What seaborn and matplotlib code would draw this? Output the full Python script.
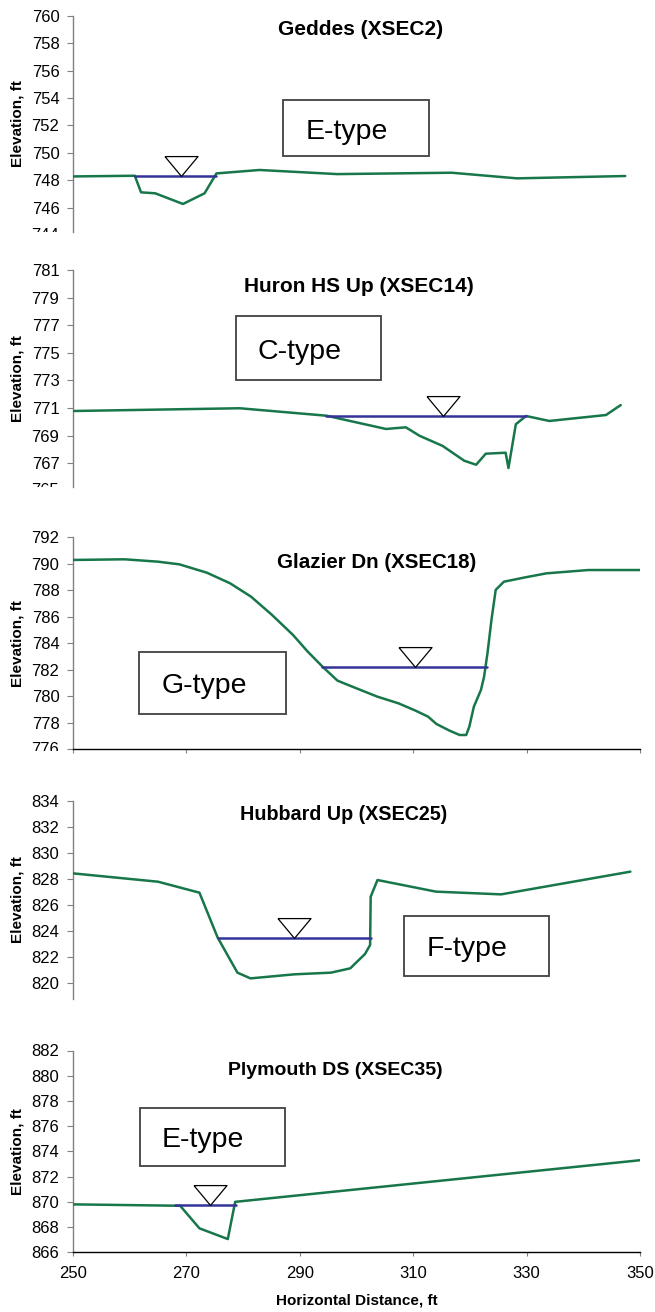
import matplotlib
matplotlib.use("Agg")
import matplotlib.pyplot as plt
import seaborn as sns
from matplotlib.patches import Rectangle
from matplotlib.transforms import offset_copy, blended_transform_factory, Bbox, TransformedBbox

# ---------------- data ----------------
titles = ["Geddes (XSEC2)", "Huron HS Up (XSEC14)", "Glazier Dn (XSEC18)",
          "Hubbard Up (XSEC25)", "Plymouth DS (XSEC35)"]
stream_types = ["E-type", "C-type", "G-type", "F-type", "E-type"]

geddes_x = [250, 260.9, 262.0, 264.5, 269.4, 273.2, 275.3, 282.9, 296.6, 316.8, 328.3, 347.4]
geddes_y = [748.28, 748.33, 747.12, 747.05, 746.27, 747.05, 748.50, 748.75, 748.45, 748.55, 748.14, 748.31]
geddes_ws_x = [260.9, 275.3]
geddes_ws = 748.33
geddes_tri = 269.1

huron_x = [250, 279.4, 294.7, 305.2, 308.7, 311.1, 315.2, 319.0, 321.1, 322.8, 326.3, 326.8,
           328.1, 329.9, 334.0, 344.0, 346.6]
huron_y = [770.79, 770.99, 770.45, 769.49, 769.61, 769.0, 768.26, 767.19, 766.9, 767.7, 767.77,
           766.66, 769.83, 770.43, 770.07, 770.5, 771.22]
huron_ws_x = [294.7, 329.9]
huron_ws = 770.43
huron_tri = 315.2

glazier_x = [250, 259.1, 265.0, 268.75, 273.6, 277.7, 281.4, 285.1, 288.8, 291.4, 294.0, 296.65,
             300.0, 303.7, 307.4, 310.4, 312.6, 314.1, 316.4, 318.2, 319.35, 319.9, 320.7, 321.95,
             322.5, 323.1, 323.8, 324.55, 326.0, 329.8, 333.5, 340.9, 344.6, 350]
glazier_y = [790.29, 790.34, 790.16, 789.96, 789.33, 788.53, 787.52, 786.14, 784.63, 783.37,
             782.24, 781.18, 780.60, 779.97, 779.47, 778.92, 778.47, 777.91, 777.41, 777.08,
             777.08, 777.71, 779.22, 780.48, 781.48, 783.25, 785.76, 788.03, 788.65, 788.98,
             789.28, 789.53, 789.53, 789.53]
glazier_ws_x = [294.0, 323.1]
glazier_ws = 782.2
glazier_tri = 310.3

hubbard_x = [250, 265.0, 272.3, 275.5, 279.0, 281.3, 289.0, 295.5, 298.9, 301.5, 302.4, 302.5,
             303.7, 314.0, 325.5, 348.3]
hubbard_y = [828.43, 827.79, 826.95, 823.52, 820.82, 820.38, 820.69, 820.82, 821.15, 822.25,
             822.94, 826.64, 827.92, 827.03, 826.82, 828.56]
hubbard_ws_x = [275.5, 302.5]
hubbard_ws = 823.47
hubbard_tri = 289.0

plymouth_x = [250, 268.9, 272.3, 277.3, 278.6, 350]
plymouth_y = [869.80, 869.69, 867.9, 867.05, 870.0, 873.3]
plymouth_ws_x = [268.05, 278.7]
plymouth_ws = 869.74
plymouth_tri = 274.2

ground_x = [geddes_x, huron_x, glazier_x, hubbard_x, plymouth_x]
ground_y = [geddes_y, huron_y, glazier_y, hubbard_y, plymouth_y]
ws_x = [geddes_ws_x, huron_ws_x, glazier_ws_x, hubbard_ws_x, plymouth_ws_x]
ws_elev = [geddes_ws, huron_ws, glazier_ws, hubbard_ws, plymouth_ws]
tri_x = [geddes_tri, huron_tri, glazier_tri, hubbard_tri, plymouth_tri]

ylims = [(744.25, 760), (765.31, 781), (776, 792), (818.8, 834), (866, 882)]
yticks = [list(range(746, 761, 2)), list(range(767, 782, 2)), list(range(776, 793, 2)),
          list(range(820, 835, 2)), list(range(866, 883, 2))]
partial_ticks = [744, 765, 776, None, None]
xticks = [250, 270, 290, 310, 330, 350]

# ---------------- style / layout ----------------
sns.set_style("white")
plt.rcParams['font.family'] = ['Liberation Sans', 'DejaVu Sans']
plt.rcParams['text.color'] = 'black'
plt.rcParams['axes.labelcolor'] = 'black'
plt.rcParams['xtick.color'] = 'black'
plt.rcParams['ytick.color'] = 'black'

GREEN = '#17774a'
BLUE = '#333399'
SPINE_GRAY = '#808080'

W, H = 655, 1312
left_px, right_px = 73, 640
panels_px = [(15.7, 231.7), (270, 486.7), (537.3, 749.3), (800.7, 999), (1050.5, 1252.3)]
clip_px = [231.7, 486.7, 750.5, None, None]
box_pos = [(0.371, 0.350, 0.628, 0.610), (0.287, 0.492, 0.543, 0.788),
           (0.117, 0.167, 0.376, 0.460), (0.584, 0.116, 0.839, 0.420),
           (0.118, 0.428, 0.374, 0.717)]
title_pos = [(0.507, 0.937, 15), (0.504, 0.923, 15), (0.535, 0.882, 14.8),
             (0.478, 0.928, 14.2), (0.463, 0.900, 14)]
x_axis_shown = [False, False, True, False, True]

fig = plt.figure(figsize=(W / 100, H / 100), dpi=100)

tri_marker = [(-1, 0.6), (1, 0.6), (0, -0.6), (-1, 0.6)]
tri_ms = 23.8

for i in range(5):
    top, bot = panels_px[i]
    ax = fig.add_axes([left_px / W, 1 - bot / H, (right_px - left_px) / W, (bot - top) / H])
    ax.set_facecolor('none')

    sns.lineplot(x=ground_x[i], y=ground_y[i], ax=ax, color=GREEN, linewidth=1.8,
                 estimator=None, sort=False, zorder=3)
    sns.lineplot(x=ws_x[i], y=[ws_elev[i], ws_elev[i]], ax=ax, color=BLUE, linewidth=1.8,
                 estimator=None, sort=False, zorder=4)
    tr = offset_copy(ax.transData, fig=fig, x=0, y=0.3 * tri_ms, units='points')
    ax.plot([tri_x[i]], [ws_elev[i]], linestyle='none', marker=tri_marker, markersize=tri_ms,
            markerfacecolor='white', markeredgecolor='black', markeredgewidth=0.9,
            transform=tr, zorder=5, clip_on=False)

    ax.set_xlim(250, 350)
    ax.set_ylim(*ylims[i])
    ticks = yticks[i]
    labels = ['' if (partial_ticks[i] is not None and t == partial_ticks[i]) else str(t) for t in ticks]
    ax.set_yticks(ticks)
    ax.set_yticklabels(labels)
    ax.tick_params(axis='y', direction='out', length=4.3, width=0.8, color=SPINE_GRAY,
                   pad=5.5, labelsize=12, left=True, labelcolor='black')

    for s in ['top', 'right']:
        ax.spines[s].set_visible(False)
    ax.spines['left'].set_color(SPINE_GRAY)
    ax.spines['left'].set_linewidth(1.0)

    ax.set_xticks(xticks)
    if x_axis_shown[i]:
        ax.spines['bottom'].set_visible(True)
        ax.spines['bottom'].set_color('black')
        ax.spines['bottom'].set_linewidth(1.0)
        ax.tick_params(axis='x', direction='out', length=3, width=0.8, color=SPINE_GRAY,
                       bottom=True, labelbottom=(i == 4), labelsize=12, pad=7,
                       labelcolor='black')
    else:
        ax.spines['bottom'].set_visible(False)
        ax.tick_params(axis='x', bottom=False, labelbottom=False)

    # partially visible tick label (cropped panel)
    if partial_ticks[i] is not None:
        btr = blended_transform_factory(ax.transAxes, ax.transData)
        t = ax.text(-14 / (right_px - left_px), partial_ticks[i], str(partial_ticks[i]),
                    transform=btr, ha='right', va='center', fontsize=12, color='black')
        t.set_clip_on(True)
        t.set_clip_box(TransformedBbox(Bbox([[0, 1 - clip_px[i] / H], [1, 1]]), fig.transFigure))

    ax.set_xlabel('')
    ax.set_ylabel("Elevation, ft", fontweight='bold', fontsize=11, color='black')
    ax.yaxis.set_label_coords(-0.0864, 0.5)

    # title
    tx, ty, ts = title_pos[i]
    ax.text(tx, ty, titles[i], transform=ax.transAxes, ha='center', va='center',
            fontweight='bold', fontsize=ts, zorder=6, color='black')

    # stream-type box
    x0, y0, x1, y1 = box_pos[i]
    ax.add_patch(Rectangle((x0, y0), x1 - x0, y1 - y0, transform=ax.transAxes,
                           facecolor='white', edgecolor='#404040', linewidth=1.3,
                           zorder=6, clip_on=False))
    ttr = offset_copy(ax.transAxes, fig=fig, x=0, y=-7.6, units='points')
    ax.text(x0 + 22 / (right_px - left_px), (y0 + y1) / 2, stream_types[i], transform=ttr,
            ha='left', va='baseline', fontsize=20.5, zorder=7, color='black')

    if i == 4:
        ax.set_xlabel("Horizontal Distance, ft", fontweight='bold', fontsize=11, color='black')
        ax.xaxis.set_label_coords(0.5, -0.2017)

fig.savefig("out.png", dpi=100, facecolor='white')
